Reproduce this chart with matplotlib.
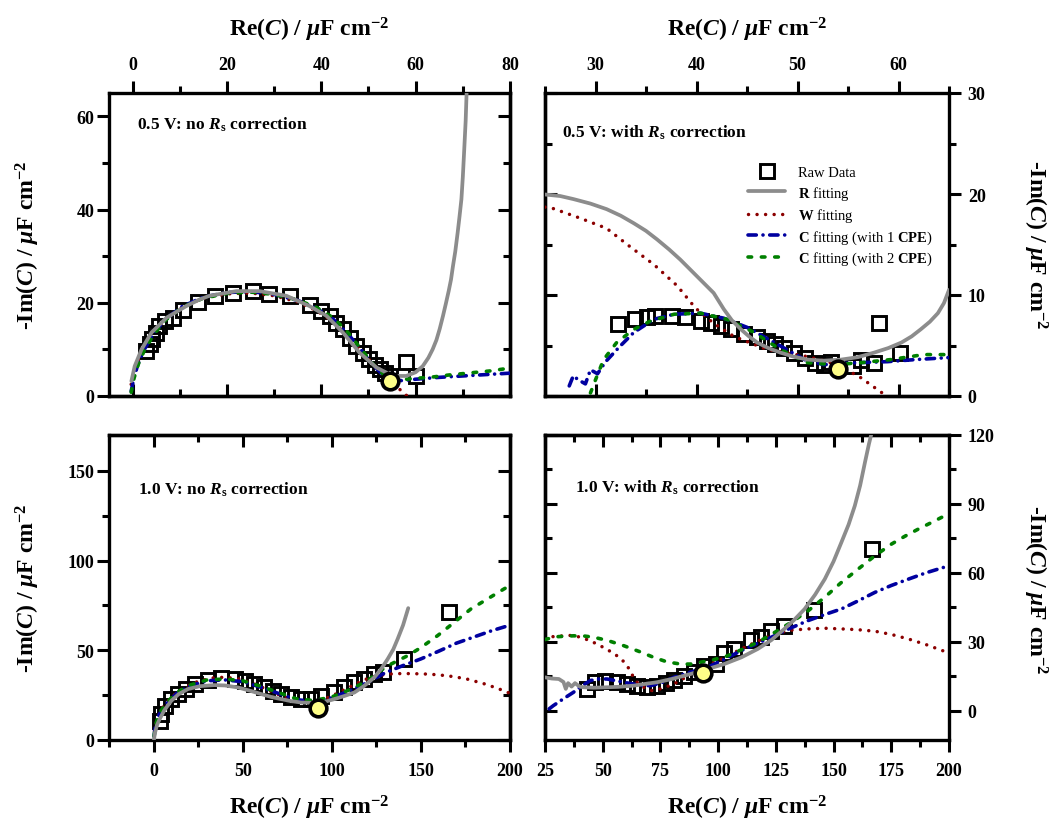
import numpy as np
import matplotlib
matplotlib.use('Agg')
import matplotlib.pyplot as plt
from matplotlib.ticker import MultipleLocator, NullFormatter

plt.rcParams.update({
    'font.family': 'Liberation Serif',
    'font.weight': 'bold',
    'mathtext.fontset': 'custom',
    'mathtext.rm': 'Liberation Serif',
    'mathtext.it': 'Liberation Serif:italic',
    'mathtext.bf': 'Liberation Serif:bold',
    'mathtext.bfit': 'Liberation Serif:italic:bold',
})

# ---------------- data: panel A (0.5 V, no Rs correction) ----------------
a_raw_x = [2.9, 3.6, 4.2, 4.9, 5.7, 6.8, 8.6, 10.7, 13.9, 17.4, 21.3, 25.5, 29.0, 33.3,
           37.5, 40.0, 41.8, 43.2, 44.6, 46.0, 47.4, 48.8, 50.2, 51.3, 52.4, 53.4, 54.5,
           58.0, 60.1]
a_raw_y = [9.7, 11.1, 12.3, 13.6, 15.0, 16.0, 16.8, 18.5, 20.2, 21.5, 22.0, 22.5, 21.8, 21.5,
           19.5, 18.2, 17.2, 15.7, 14.3, 12.5, 10.7, 9.3, 7.9, 6.6, 5.7, 5.0, 4.3,
           7.2, 4.3]
a_r_x = [-0.25, 0.45, 1.9, 4.0, 7.2, 11.4, 14.2, 16.3, 22.0, 26.9, 32.6, 37.5, 41.1, 44.6,
         48.1, 51.7, 55.2, 58.0, 60.0, 61.5, 62.7, 63.6, 64.4, 65.1, 65.8, 66.4, 67.0, 67.5,
         67.9, 68.4, 68.9, 69.3, 69.7, 70.0, 70.3, 70.6, 70.8]
a_r_y = [3.2, 6.4, 10.0, 13.6, 16.8, 19.3, 20.7, 21.5, 22.5, 22.5, 21.5, 19.3, 17.2, 13.6,
         9.3, 6.1, 4.3, 4.3, 5.1, 6.4, 8.2, 10.0, 12.0, 14.4, 17.2, 19.8, 22.5, 25.0,
         27.8, 31.0, 35.0, 38.5, 42.2, 47.0, 52.9, 59.0, 65.0]
a_w_x = [-0.3, 0.5, 1.5, 3.0, 5.0, 8.0, 11.0, 15.0, 20.0, 25.0, 30.0, 35.0, 39.0, 42.0,
         45.0, 48.0, 50.5, 52.5, 54.5, 56.0, 57.3, 58.2]
a_w_y = [2.5, 5.5, 8.5, 11.5, 14.5, 17.3, 19.3, 21.0, 21.9, 22.1, 21.5, 20.2, 18.3, 16.3,
         13.5, 10.2, 7.4, 5.3, 3.4, 2.0, 0.8, 0.0]
a_c1_x = [-0.3, 0.3, 1.2, 2.5, 4.5, 7.0, 10.5, 15.0, 20.0, 25.0, 30.0, 35.0, 39.0, 42.5,
          45.5, 48.5, 51.0, 53.0, 55.0, 57.0, 60.0, 65.0, 70.0, 75.0, 80.0]
a_c1_y = [1.0, 4.0, 7.0, 10.0, 13.5, 16.5, 19.2, 21.2, 22.2, 22.4, 21.8, 20.5, 18.8, 16.5,
          13.5, 9.8, 6.6, 4.6, 3.6, 3.3, 3.6, 4.0, 4.3, 4.6, 4.9]
a_c2_x = [-0.3, 0.3, 1.2, 2.5, 4.5, 7.0, 10.5, 15.0, 20.0, 25.0, 30.0, 35.0, 39.0, 42.5,
          45.5, 48.5, 51.0, 53.0, 55.0, 57.0, 60.0, 63.0, 67.0, 72.0, 76.0, 80.0]
a_c2_y = [0.8, 3.8, 6.8, 9.8, 13.2, 16.3, 19.0, 21.0, 22.0, 22.3, 21.8, 20.6, 19.0, 16.8,
          13.8, 10.0, 6.8, 4.8, 3.7, 3.5, 3.8, 4.0, 4.5, 5.0, 5.4, 6.0]
a_mark = (54.5, 3.2)

# ---------------- data: panel B (0.5 V, with Rs correction) ----------------
b_raw_x = [32.2, 33.9, 35.1, 35.9, 37.6, 38.9, 40.4, 41.4, 42.4, 43.4, 44.7, 46.0, 47.0,
           47.8, 48.7, 49.7, 50.7, 51.7, 52.6, 53.3, 55.5, 56.3, 57.6, 58.1, 60.1]
b_raw_y = [7.1, 7.6, 7.8, 7.9, 7.9, 7.8, 7.4, 7.2, 6.9, 6.6, 6.1, 5.8, 5.4,
           5.1, 4.8, 4.3, 3.8, 3.3, 3.1, 3.4, 3.0, 3.6, 3.3, 7.2, 4.3]
b_r_x = [25.0, 26.5, 27.8, 29.5, 31.1, 32.5, 33.8, 35.0, 36.1, 37.3, 38.4, 39.4, 40.4, 41.1,
         41.7, 42.2, 42.7, 43.5, 44.4, 45.2, 46.0, 47.1, 48.3, 49.6, 51.0, 52.6, 54.3, 56.0,
         57.6, 59.0, 60.3, 61.3, 62.2, 63.1, 63.9, 64.5, 65.0]
b_r_y = [19.95, 19.8, 19.5, 19.05, 18.5, 17.85, 17.1, 16.35, 15.5, 14.5, 13.5, 12.5, 11.5, 10.8,
         10.2, 9.4, 8.6, 7.5, 6.6, 5.9, 5.3, 4.75, 4.3, 3.9, 3.6, 3.5, 3.6, 3.85,
         4.3, 4.75, 5.3, 5.9, 6.6, 7.35, 8.2, 9.2, 10.5]
b_w_x = [25.0, 25.7, 28.5, 31.1, 33.4, 35.8, 38.1, 39.9, 41.7, 43.7, 47.0, 51.0, 53.3,
         56.0, 58.6, 58.8]
b_w_y = [18.7, 18.6, 17.6, 16.6, 14.8, 13.0, 10.9, 8.7, 7.2, 5.9, 4.6, 3.9, 3.3,
         2.0, 0.15, 0.0]
b_c1_x = [27.4, 27.8, 28.3, 29.0, 29.5, 30.2, 31.0, 32.4, 33.8, 35.8, 37.8, 40.4, 42.7,
          45.0, 47.7, 50.7, 52.6, 56.0, 58.9, 61.6, 64.9]
b_c1_y = [1.0, 2.0, 1.6, 1.2, 2.6, 2.2, 3.4, 4.9, 6.3, 7.6, 8.1, 8.2, 7.7,
          6.8, 5.3, 3.6, 3.1, 3.3, 3.4, 3.6, 3.8]
b_c2_x = [29.5, 30.0, 30.8, 32.1, 33.8, 35.4, 37.8, 40.4, 43.0, 45.7, 48.3, 51.0, 53.6,
          56.3, 59.2, 62.5, 64.9]
b_c2_y = [0.3, 1.6, 3.6, 5.3, 6.6, 7.4, 8.1, 8.2, 7.6, 6.3, 4.6, 3.3, 3.1,
          3.3, 3.6, 4.1, 4.1]
b_mark = (54.0, 2.7)

# ---------------- data: panel C (1.0 V, no Rs correction) ----------------
c_raw_x = [3.4, 4.3, 6.2, 9.9, 13.7, 18.3, 23.0, 30.5, 38.0, 45.5, 51.1, 56.6, 62.2, 66.9,
           71.6, 77.2, 82.8, 88.4, 94.0, 101.5, 107.1, 112.7, 118.3, 123.9, 128.6, 140.8, 166.0]
c_raw_y = [10.6, 14.4, 19.0, 22.8, 25.6, 28.4, 31.2, 33.6, 34.4, 34.0, 33.0, 31.2, 29.3, 27.4,
           25.6, 23.7, 22.8, 22.8, 24.6, 26.5, 29.3, 32.1, 34.0, 36.8, 37.7, 45.2, 71.3]
c_r_x = [0.2, 0.8, 2.0, 3.4, 6.0, 9.9, 14.0, 19.3, 26.0, 34.2, 40.0, 47.3, 54.0, 60.4, 66.0,
         71.6, 77.0, 82.8, 90.3, 96.0, 101.5, 107.0, 112.7, 118.0, 123.9, 128.0, 131.4, 134.5,
         137.0, 140.0, 142.9]
c_r_y = [0.0, 4.0, 8.5, 11.6, 16.5, 21.8, 25.5, 28.4, 30.0, 30.6, 30.4, 29.3, 27.5, 25.6, 24.0,
         22.8, 21.7, 20.9, 20.7, 21.3, 22.8, 24.5, 26.5, 30.0, 34.9, 40.0, 45.2, 50.5,
         56.4, 64.0, 73.5]
c_w_x = [0.5, 2.0, 5.0, 10.0, 16.0, 23.0, 32.0, 40.0, 48.0, 56.0, 64.0, 72.0, 80.0, 88.0,
         95.0, 102.0, 110.0, 118.0, 126.0, 135.0, 145.0, 155.0, 165.0, 175.0, 185.0, 193.0, 200.0]
c_w_y = [5.0, 12.0, 18.0, 24.0, 28.5, 32.0, 34.5, 35.0, 34.0, 31.5, 28.0, 24.5, 22.0, 21.0,
         22.5, 25.5, 29.5, 33.5, 36.0, 37.0, 37.0, 36.7, 35.8, 34.2, 31.5, 28.8, 26.0]
c_c1_x = [0.3, 1.0, 3.0, 7.0, 13.0, 20.0, 30.0, 40.0, 50.0, 60.0, 70.0, 80.0, 90.0, 100.0,
          110.0, 120.0, 130.0, 140.0, 150.0, 160.0, 170.0, 180.0, 190.0, 200.0]
c_c1_y = [2.0, 8.0, 14.0, 20.0, 26.0, 30.0, 33.0, 33.5, 32.5, 29.5, 26.0, 22.5, 21.5, 23.5,
          27.5, 32.0, 37.5, 41.5, 45.2, 49.5, 54.0, 57.5, 61.0, 64.0]
c_c2_x = [0.3, 1.0, 3.0, 7.0, 13.0, 20.0, 30.0, 40.0, 50.0, 60.0, 70.0, 80.0, 90.0, 100.0,
          110.0, 120.0, 125.0, 131.4, 142.6, 150.0, 159.4, 168.0, 178.0, 188.0, 196.8, 200.0]
c_c2_y = [2.0, 8.0, 14.5, 20.5, 26.5, 30.5, 33.5, 34.0, 33.0, 30.0, 26.5, 23.0, 22.0, 24.0,
          28.0, 33.0, 37.0, 41.4, 47.0, 51.5, 58.2, 65.0, 73.0, 79.0, 84.3, 86.0]
c_mark = (92.5, 18.1)

# ---------------- data: panel D (1.0 V, with Rs correction) ----------------
d_raw_x = [43.2, 46.8, 51.1, 56.2, 60.6, 64.9, 69.3, 73.6, 77.2, 80.8, 85.2, 89.5, 93.9,
           99.0, 102.6, 107.0, 114.2, 118.6, 123.0, 128.7, 141.5, 166.5]
d_raw_y = [9.4, 12.4, 13.1, 12.4, 11.6, 10.9, 10.2, 10.9, 12.1, 13.5, 15.0, 16.7, 19.6,
           20.3, 25.1, 26.9, 30.9, 31.9, 34.8, 37.0, 43.8, 70.4]
d_r_x = [25.0, 28.0, 31.0, 33.0, 34.0, 35.0, 36.5, 38.0, 40.0, 41.7, 46.0, 51.9, 57.0, 63.4,
         68.0, 73.6, 80.0, 88.1, 95.0, 102.6, 110.0, 117.2, 123.0, 128.7, 133.0, 137.5, 142.0,
         146.2, 150.0, 153.4, 156.5, 159.2, 161.5, 163.6, 165.3, 166.5]
d_r_y = [14.5, 14.0, 13.8, 12.5, 9.5, 12.0, 10.5, 12.0, 10.5, 10.2, 10.0, 10.2, 10.4, 10.9,
         11.6, 12.4, 13.8, 16.0, 18.0, 20.3, 23.2, 26.9, 30.7, 35.6, 39.6, 44.3, 50.5,
         57.3, 65.0, 73.3, 81.0, 89.2, 98.0, 108.1, 116.0, 121.0]
d_w_x = [25.0, 28.0, 33.0, 37.0, 40.2, 44.5, 48.9, 52.5, 56.2, 58.5, 60.6, 62.0, 63.4, 65.0,
         66.4, 68.5, 70.7, 74.0, 77.0, 80.8, 85.0, 89.5, 95.0, 100.0, 105.0, 110.0, 117.0,
         124.4, 131.0, 138.9, 146.0, 153.4, 160.0, 167.9, 175.0, 182.5, 190.0, 198.4, 200.0]
d_w_y = [31.0, 32.2, 32.6, 32.8, 32.0, 30.5, 28.3, 26.3, 23.9, 22.0, 19.6, 17.0, 14.5, 12.3,
         10.9, 9.8, 8.7, 9.2, 10.2, 11.6, 14.0, 17.0, 19.5, 21.8, 24.2, 26.9, 30.2,
         33.4, 35.0, 35.6, 35.9, 35.6, 35.3, 34.6, 33.2, 31.2, 28.8, 25.7, 25.2]
d_c1_x = [26.8, 28.6, 33.0, 37.3, 41.0, 44.6, 48.0, 51.9, 56.0, 60.0, 63.4, 67.0, 70.7,
          75.0, 80.8, 88.0, 95.4, 102.0, 109.9, 117.0, 124.4, 131.0, 138.9, 146.0, 153.4,
          160.0, 167.9, 175.0, 182.5, 190.0, 200.0]
d_c1_y = [0.8, 2.2, 5.2, 8.0, 10.8, 13.1, 13.8, 13.8, 13.0, 12.2, 11.6, 11.0, 10.9,
          12.0, 14.5, 16.8, 18.9, 22.0, 26.1, 29.3, 32.6, 35.8, 39.2, 41.8, 44.3,
          47.5, 51.5, 54.5, 57.3, 60.0, 63.1]
d_c2_x = [25.0, 30.0, 37.3, 42.0, 46.0, 52.0, 59.1, 66.0, 72.1, 78.0, 83.8, 88.0, 92.5,
          98.0, 104.1, 110.0, 117.2, 124.0, 131.7, 139.0, 146.2, 153.0, 160.7, 168.0, 175.2,
          181.0, 186.8, 193.0, 200.0]
d_c2_y = [31.0, 32.2, 32.6, 32.5, 32.0, 30.6, 28.3, 25.7, 23.2, 21.2, 20.3, 20.3, 21.1,
          22.2, 23.9, 26.5, 29.8, 33.8, 38.5, 43.5, 49.4, 55.5, 61.7, 67.5, 72.6,
          76.0, 79.1, 82.2, 85.8]
d_mark = (93.5, 16.3)

panel_titles = [r"0.5 V: no $\mathbfit{R}_{\mathbf{s}}$ correction",
                r"0.5 V: with $\mathbfit{R}_{\mathbf{s}}$ correction",
                r"1.0 V: no $\mathbfit{R}_{\mathbf{s}}$ correction",
                r"1.0 V: with $\mathbfit{R}_{\mathbf{s}}$ correction"]
legend_labels = ["Raw Data", r"$\mathbf{R}$ fitting", r"$\mathbf{W}$ fitting",
                 r"$\mathbf{C}$ fitting (with 1 $\mathbf{CPE}$)",
                 r"$\mathbf{C}$ fitting (with 2 $\mathbf{CPE}$)"]
xlabel_text = r"Re($\mathbfit{C}$) / $\mathbfit{\mu}$F cm$^{\mathbf{-2}}$"
ylabel_text = r"-Im($\mathbfit{C}$) / $\mathbfit{\mu}$F cm$^{\mathbf{-2}}$"

# ---------------- style ----------------
COL_R = '#8c8c8c'
COL_W = '#8b0000'
COL_C1 = '#0000a0'
COL_C2 = '#008000'
SPW = 2.4

W, H = 1055, 829
fig = plt.figure(figsize=(W / 100, H / 100), dpi=100)


def px_axes(x0, y0, x1, y1):
    return fig.add_axes([x0 / W, 1 - y1 / H, (x1 - x0) / W, (y1 - y0) / H])


def setup(ax, xside, yside, xmaj, xmin, ymaj, ymin):
    for s in ax.spines.values():
        s.set_linewidth(SPW)
    xother = 'bottom' if xside == 'top' else 'top'
    yother = 'left' if yside == 'right' else 'right'
    ax.xaxis.set_ticks_position(xside)
    ax.yaxis.set_ticks_position(yside)
    ax.xaxis.set_major_locator(MultipleLocator(xmaj))
    ax.xaxis.set_minor_locator(MultipleLocator(xmin))
    ax.yaxis.set_major_locator(MultipleLocator(ymaj))
    ax.yaxis.set_minor_locator(MultipleLocator(ymin))
    ax.tick_params(which='both', direction='out', width=2.2, labelsize=13)
    ax.tick_params(which='major', length=8.5)
    ax.tick_params(which='minor', length=5)
    ax.tick_params(axis='x', pad=7 if xside == 'bottom' else 6)
    ax.tick_params(axis='y', pad=2 if yside == 'left' else 5)
    sx = ax.secondary_xaxis(xother)
    sx.xaxis.set_major_locator(MultipleLocator(xmaj))
    sx.xaxis.set_minor_locator(MultipleLocator(xmin))
    sx.xaxis.set_major_formatter(NullFormatter())
    sx.tick_params(which='both', direction='in', width=2.2)
    sx.tick_params(which='major', length=8.5)
    sx.tick_params(which='minor', length=5)
    sx.spines[xother].set_linewidth(SPW)
    sy = ax.secondary_yaxis(yother)
    sy.yaxis.set_major_locator(MultipleLocator(ymaj))
    sy.yaxis.set_minor_locator(MultipleLocator(ymin))
    sy.yaxis.set_major_formatter(NullFormatter())
    sy.tick_params(which='both', direction='in', width=2.2)
    sy.tick_params(which='major', length=8.5)
    sy.tick_params(which='minor', length=5)
    sy.spines[yother].set_linewidth(SPW)
    for lab in ax.get_xticklabels() + ax.get_yticklabels():
        lab.set_fontweight('bold')


def draw(ax, rx, ry, r_x, r_y, w_x, w_y, c1x, c1y, c2x, c2y, mark):
    hs = ax.plot(rx, ry, ls='none', marker='s', ms=9.5, mfc='none', mec='black',
                 mew=2.1, zorder=3, clip_on=False)[0]
    hw = ax.plot(w_x, w_y, color=COL_W, lw=2.5, ls=(0, (0.01, 2.45)),
                 dash_capstyle='round', zorder=4)[0]
    h1 = ax.plot(c1x, c1y, color=COL_C1, lw=2.6, ls=(0, (2.3, 1.85, 0.01, 1.85)),
                 dash_capstyle='round', zorder=5)[0]
    h2 = ax.plot(c2x, c2y, color=COL_C2, lw=2.6, ls=(0, (1.0, 2.7)),
                 dash_capstyle='round', zorder=6)[0]
    hr = ax.plot(r_x, r_y, color=COL_R, lw=2.7, solid_capstyle='round',
                 solid_joinstyle='round', zorder=7)[0]
    ax.plot([mark[0]], [mark[1]], ls='none', marker='o', ms=12, mfc='#ffff88',
            mec='black', mew=2.6, zorder=9)
    return [hs, hr, hw, h1, h2]


LX0, LX1 = 109, 510
RX0, RX1 = 545, 949
TY0, TY1 = 94, 397
BY0, BY1 = 436, 741

axA = px_axes(LX0, TY0, LX1, TY1)
axB = px_axes(RX0, TY0, RX1, TY1)
axC = px_axes(LX0, BY0, LX1, BY1)
axD = px_axes(RX0, BY0, RX1, BY1)

draw(axA, a_raw_x, a_raw_y, a_r_x, a_r_y, a_w_x, a_w_y, a_c1_x, a_c1_y, a_c2_x, a_c2_y, a_mark)
handles = draw(axB, b_raw_x, b_raw_y, b_r_x, b_r_y, b_w_x, b_w_y, b_c1_x, b_c1_y, b_c2_x, b_c2_y, b_mark)
draw(axC, c_raw_x, c_raw_y, c_r_x, c_r_y, c_w_x, c_w_y, c_c1_x, c_c1_y, c_c2_x, c_c2_y, c_mark)
draw(axD, d_raw_x, d_raw_y, d_r_x, d_r_y, d_w_x, d_w_y, d_c1_x, d_c1_y, d_c2_x, d_c2_y, d_mark)

axA.set_xlim(-5, 80); axA.set_ylim(0, 65)
axB.set_xlim(25, 65); axB.set_ylim(0, 30)
axC.set_xlim(-25, 200); axC.set_ylim(0, 170)
axD.set_xlim(25, 200); axD.set_ylim(-12.75, 120)

setup(axA, 'top', 'left', 20, 10, 20, 10)
setup(axB, 'top', 'right', 10, 5, 10, 5)
setup(axC, 'bottom', 'left', 50, 25, 50, 25)
setup(axD, 'bottom', 'right', 25, 12.5, 30, 15)

title_pos = [(0.07, 0.898), (0.042, 0.871), (0.072, 0.823), (0.074, 0.829)]
for ax, t, (tx, ty) in zip([axA, axB, axC, axD], panel_titles, title_pos):
    ax.text(tx, ty, t, transform=ax.transAxes, fontsize=12.5, fontweight='bold',
            ha='left', va='center', zorder=10)

leg = axB.legend(handles, legend_labels, loc='upper left',
                 bbox_to_anchor=(748 / W, 1 - 167 / H), bbox_transform=fig.transFigure,
                 frameon=False, borderpad=0, borderaxespad=0, handlelength=2.55,
                 handletextpad=0.9, labelspacing=0.3,
                 prop={'family': 'Liberation Serif', 'weight': 'normal', 'size': 10.5})
leg.set_zorder(20)

# axis labels
lab_kw = dict(fontsize=17, fontweight='bold', ha='center', va='center')
fig.text((LX0 + LX1) / 2 / W, 1 - 30 / H, xlabel_text, **lab_kw)
fig.text((RX0 + RX1) / 2 / W, 1 - 30 / H, xlabel_text, **lab_kw)
fig.text((LX0 + LX1) / 2 / W, 1 - 808 / H, xlabel_text, **lab_kw)
fig.text((RX0 + RX1) / 2 / W, 1 - 808 / H, xlabel_text, **lab_kw)
fig.text(28 / W, 1 - 245 / H, ylabel_text, rotation=90, **lab_kw)
fig.text(28 / W, 1 - 588 / H, ylabel_text, rotation=90, **lab_kw)
fig.text(1035 / W, 1 - 245 / H, ylabel_text, rotation=270, **lab_kw)
fig.text(1035 / W, 1 - 590 / H, ylabel_text, rotation=270, **lab_kw)

fig.savefig('out.png', dpi=100)
